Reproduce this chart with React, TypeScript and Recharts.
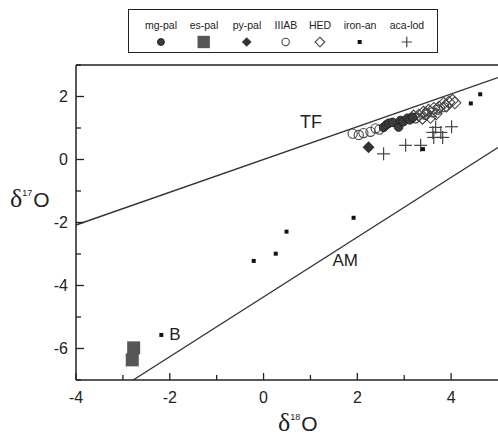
import React from 'react'
import { ScatterChart, Scatter, XAxis, YAxis, ReferenceLine, ReferenceDot } from 'recharts'

// groups in the order of the legend
const groupNames = ['mg-pal', 'es-pal', 'py-pal', 'IIIAB', 'HED', 'iron-an', 'aca-lod']

// [δ18O, δ17O]
const mgPal = [
    [2.56, 1.02], [2.62, 1.1], [2.67, 1.15], [2.75, 1.18], [2.88, 1.03],
    [2.92, 1.24], [2.98, 1.2], [3.07, 1.31], [3.12, 1.26], [3.18, 1.34],
]
const esPal = [[-2.77, -5.98], [-2.8, -6.36]]
const pyPal = [[2.24, 0.39]]
const iiiab = [
    [1.9, 0.82], [2.03, 0.78], [2.13, 0.84], [2.28, 0.88], [2.39, 0.99],
    [2.47, 0.95], [3.24, 1.31], [3.45, 1.42], [3.6, 1.5], [3.72, 1.58], [3.85, 1.66],
]
const hed = [
    [3.2, 1.38], [3.31, 1.4], [3.39, 1.31], [3.41, 1.5], [3.47, 1.45], [3.52, 1.56],
    [3.56, 1.34], [3.63, 1.62], [3.68, 1.45], [3.74, 1.66], [3.84, 1.78], [3.9, 1.7],
    [3.95, 1.82], [4.03, 1.88], [4.08, 1.8],
]
const ironAn = [
    [-2.18, -5.57], [-0.21, -3.22], [0.26, -2.99], [0.49, -2.29],
    [1.92, -1.85], [3.4, 0.33], [4.42, 1.78], [4.62, 2.07],
]
const acaLod = [
    [3.67, 1.02], [4.01, 1.04], [3.61, 0.86], [3.78, 0.86], [3.63, 0.7],
    [3.82, 0.7], [3.03, 0.45], [3.35, 0.45], [2.56, 0.18],
]

// fractionation lines, end points
const tfLine = [[-4, -2.08], [5, 2.6]]
const amLine = [[-2.78, -7], [5, 0.38]]

const xTicks = [-4, -3, -2, -1, 0, 1, 2, 3, 4]
const yTicks = [-7, -6, -5, -4, -3, -2, -1, 0, 1, 2, 3]

const toPts = (arr: number[][]) => arr.map(([x, y]) => ({ x, y }))

const INK = '#222'
const FONT = '"Liberation Sans", Arial, sans-serif'
const TICK_GAP_X = 12
const TICK_GAP_Y = 8

// legend column centres, relative to the legend box
const legendCenters = [32, 75, 118, 157, 191, 231, 278]

function Mark({ kind, cx, cy, legend }: { kind: string; cx: number; cy: number; legend?: boolean }) {
    const s = legend ? 0.8 : 1
    switch (kind) {
        case 'mg-pal':
            return <circle cx={cx} cy={cy} r={4.3 * s} fill="#3c3c3c" stroke="#222" strokeWidth={1} />
        case 'es-pal': {
            const h = 6.5 * (legend ? 0.95 : 1)
            return <rect x={cx - h} y={cy - h} width={2 * h} height={2 * h} fill="#565656" />
        }
        case 'py-pal': {
            const d = 6 * s
            return <polygon points={`${cx},${cy - d} ${cx + d},${cy} ${cx},${cy + d} ${cx - d},${cy}`} fill="#333" />
        }
        case 'IIIAB':
            return <circle cx={cx} cy={cy} r={4.6 * s} fill="none" stroke="#444" strokeWidth={1.1} />
        case 'HED': {
            const d = 6 * s
            return <polygon points={`${cx},${cy - d} ${cx + d},${cy} ${cx},${cy + d} ${cx - d},${cy}`} fill="none" stroke="#444" strokeWidth={1.1} />
        }
        case 'iron-an':
            return <rect x={cx - 2} y={cy - 2} width={4} height={4} fill="#111" />
        case 'aca-lod': {
            const d = 6.5 * s
            return (
                <g stroke="#444" strokeWidth={1.2}>
                    <line x1={cx - d} x2={cx + d} y1={cy} y2={cy} />
                    <line x1={cx} x2={cx} y1={cy - d} y2={cy + d} />
                </g>
            )
        }
    }
    return null
}

const XTick = (props: any) => {
    const { x, y, payload } = props
    const v = payload.value
    const major = v % 2 === 0
    const top = y - TICK_GAP_X
    return (
        <g>
            <line x1={x} x2={x} y1={top} y2={top - (major ? 7 : 5)} stroke={INK} strokeWidth={1.3} />
            {major && (
                <text x={x} y={y} dy="0.71em" textAnchor="middle" fontSize={16} fontFamily={FONT} fill={INK}>
                    {`${v}`}
                </text>
            )}
        </g>
    )
}

const YTick = (props: any) => {
    const { x, y, payload } = props
    const v = payload.value
    const major = v % 2 === 0
    const left = x + TICK_GAP_Y
    return (
        <g>
            <line x1={left} x2={left + (major ? 8 : 5)} y1={y} y2={y} stroke={INK} strokeWidth={1.3} />
            {major && (
                <text x={x} y={y} dy="0.36em" textAnchor="end" fontSize={16} fontFamily={FONT} fill={INK}>
                    {`${v}`}
                </text>
            )}
        </g>
    )
}

const Title = ({ x, y, sup }: { x: number; y: number; sup: string }) => (
    <text x={x} y={y} fill={INK} fontFamily={FONT}>
        <tspan fontSize={26} fontFamily='"Liberation Serif", serif'>δ</tspan>
        <tspan fontSize={9} dy={-11}>{sup}</tspan>
        <tspan fontSize={21} dx={1} dy={11}>O</tspan>
    </text>
)

const YTitle = (props: any) => {
    const vb = props.viewBox || { x: 0, y: 65 }
    return <Title x={vb.x + 10} y={vb.y + 142} sup="17" />
}

const XTitle = (props: any) => {
    const vb = props.viewBox || { x: 76, y: 380 }
    return <Title x={vb.x + 202} y={vb.y + 51} sup="18" />
}

const textShape = (label: string, size: number) => (p: any) => (
    <text x={p.cx} y={p.cy} textAnchor="middle" dominantBaseline="central" fontSize={size} fontFamily={FONT} fill={INK}>
        {label}
    </text>
)

function LegendBox() {
    return (
        <div style={{
            position: 'absolute',
            left: 128,
            top: 9,
            width: 310,
            height: 44,
            boxSizing: 'border-box',
            border: `1.5px solid ${INK}`,
            fontFamily: FONT,
            fontSize: 10.5,
            color: INK,
        }}>
            {groupNames.map((name, i) => (
                <div key={name} style={{
                    position: 'absolute',
                    left: legendCenters[i],
                    top: 0,
                    transform: 'translateX(-50%)',
                    display: 'flex',
                    flexDirection: 'column',
                    alignItems: 'center',
                    whiteSpace: 'nowrap',
                }}>
                    <span style={{ marginTop: 9, lineHeight: '12px' }}>{name}</span>
                    <svg width={16} height={16} style={{ marginTop: 3 }}>
                        <Mark kind={name} cx={8} cy={8} legend />
                    </svg>
                </div>
            ))}
        </div>
    )
}

const series: [string, number[][]][] = [
    ['IIIAB', iiiab],
    ['HED', hed],
    ['mg-pal', mgPal],
    ['py-pal', pyPal],
    ['es-pal', esPal],
    ['aca-lod', acaLod],
    ['iron-an', ironAn],
]

export default function App() {
    return (
        <div style={{ position: 'relative', width: 498, height: 436, background: '#fff' }}>
            <style>{'body{margin:0}'}</style>
            <ScatterChart width={498} height={436} margin={{ top: 65, right: 0, bottom: 0, left: 0 }}>
                <XAxis
                    type="number"
                    dataKey="x"
                    domain={[-4, 5]}
                    ticks={xTicks}
                    interval={0}
                    height={56}
                    tickSize={0}
                    tickMargin={TICK_GAP_X}
                    tick={XTick}
                    axisLine={{ stroke: INK, strokeWidth: 1.5 }}
                    allowDataOverflow
                    label={<XTitle />}
                />
                <YAxis
                    type="number"
                    dataKey="y"
                    domain={[-7, 3]}
                    ticks={yTicks}
                    interval={0}
                    width={76}
                    tickSize={0}
                    tickMargin={TICK_GAP_Y}
                    tick={YTick}
                    axisLine={{ stroke: INK, strokeWidth: 1.5 }}
                    allowDataOverflow
                    label={<YTitle />}
                />
                <ReferenceLine y={3} stroke={INK} strokeWidth={1.5} />
                <ReferenceLine
                    segment={tfLine.map(([x, y]) => ({ x, y }))}
                    stroke="#333"
                    strokeWidth={1.4}
                />
                <ReferenceLine
                    segment={amLine.map(([x, y]) => ({ x, y }))}
                    stroke="#333"
                    strokeWidth={1.4}
                />
                {series.map(([name, pts]) => (
                    <Scatter
                        key={name}
                        name={name}
                        data={toPts(pts)}
                        isAnimationActive={false}
                        shape={(p: any) => <Mark kind={name} cx={p.cx} cy={p.cy} />}
                    />
                ))}
                <ReferenceDot x={1.01} y={1.19} r={0} shape={textShape('TF', 18)} />
                <ReferenceDot x={1.74} y={-3.2} r={0} shape={textShape('AM', 17)} />
                <ReferenceDot x={-1.89} y={-5.57} r={0} shape={textShape('B', 17)} />
            </ScatterChart>
            <LegendBox />
        </div>
    )
}
